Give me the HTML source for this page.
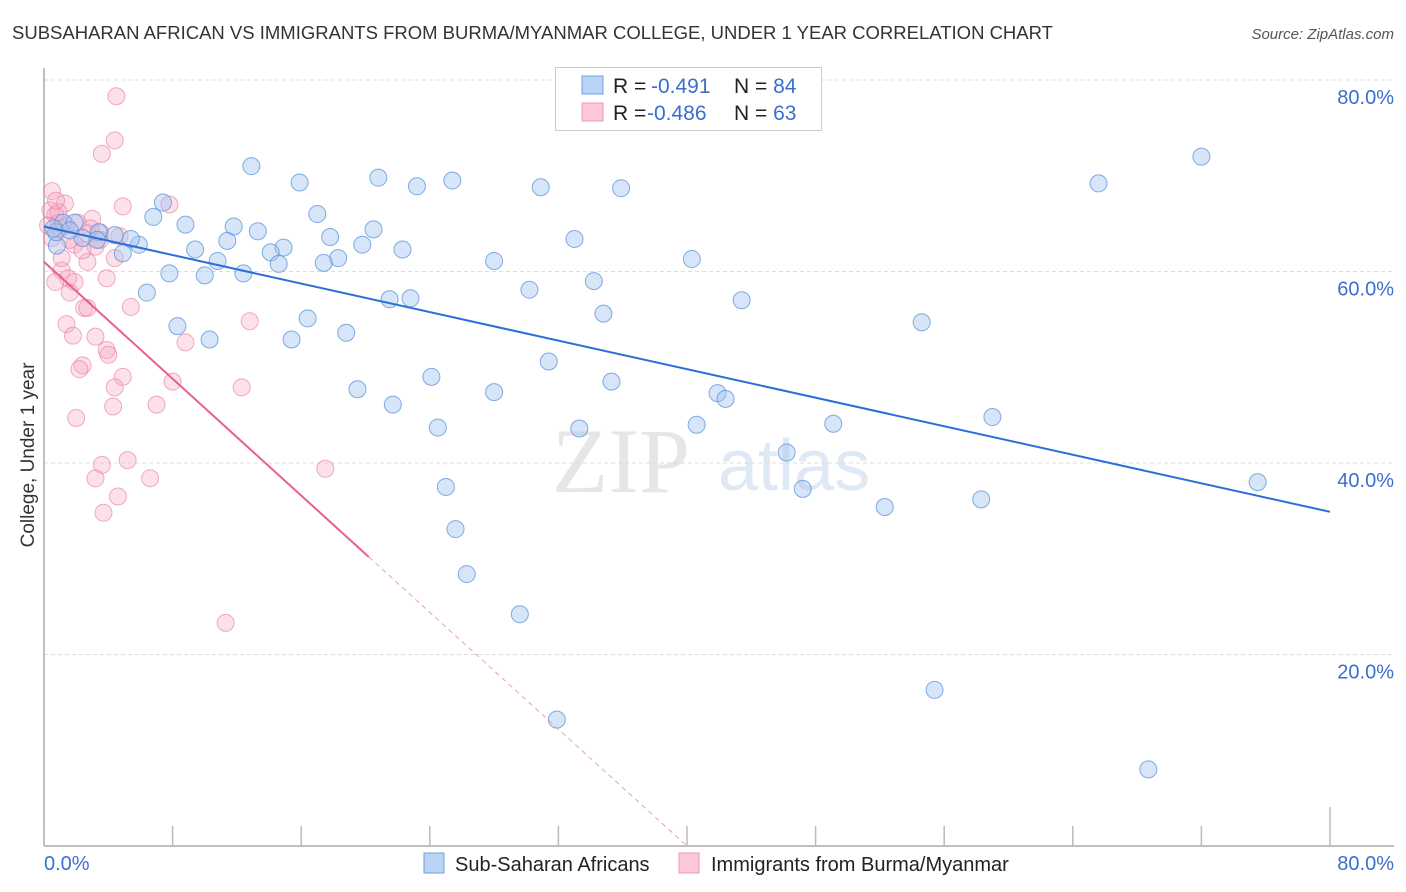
<!DOCTYPE html>
<html><head><meta charset="utf-8"><style>
body{margin:0;background:#fff;font-family:"Liberation Sans",sans-serif;}
#wrap{position:relative;width:1406px;height:892px;overflow:hidden;}
</style></head><body>
<div id="wrap">
<svg id="svg" width="1406" height="892" xmlns="http://www.w3.org/2000/svg">
<text x="12" y="39" font-size="18.5" fill="#333">SUBSAHARAN AFRICAN VS IMMIGRANTS FROM BURMA/MYANMAR COLLEGE, UNDER 1 YEAR CORRELATION CHART</text>
<text x="1394" y="39" font-size="15" fill="#555" font-style="italic" text-anchor="end">Source: ZipAtlas.com</text>
<text x="34" y="455" font-size="19" fill="#333" text-anchor="middle" transform="rotate(-90 34 455)">College, Under 1 year</text>
<text x="552" y="492" font-size="92" fill="#e6e6e6" font-family="Liberation Serif,serif">ZIP</text>
<text x="718" y="490" font-size="72" fill="#dfe8f5">atlas</text>
<g id="grid"></g><g id="pts"></g><g id="lines"></g>
<g>
<rect x="555.5" y="67.5" width="266" height="63" fill="#fff" stroke="#ccc"/>
<rect x="582" y="76" width="21" height="18" fill="#b9d3f5" stroke="#6a9fe0"/>
<rect x="582" y="103" width="21" height="18" fill="#fcc7d6" stroke="#ec9ab3"/>
<text x="613" y="93" font-size="21" fill="#222">R = <tspan x="651" fill="#3a6fd0">-0.491</tspan><tspan x="734">N = </tspan><tspan fill="#3a6fd0">84</tspan></text>
<text x="613" y="120" font-size="21" fill="#222">R = <tspan x="647" fill="#3a6fd0">-0.486</tspan><tspan x="734">N = </tspan><tspan fill="#3a6fd0">63</tspan></text>
</g>
<text x="44" y="870" font-size="20" fill="#3a6fd0">0.0%</text>
<text x="1394" y="870" font-size="20" fill="#3a6fd0" text-anchor="end">80.0%</text>
<rect x="424" y="853" width="20" height="20" fill="#b9d3f5" stroke="#6a9fe0"/>
<text x="455" y="871" font-size="20" fill="#222">Sub-Saharan Africans</text>
<rect x="679" y="853" width="20" height="20" fill="#fcc7d6" stroke="#ec9ab3"/>
<text x="711" y="871" font-size="20" fill="#222">Immigrants from Burma/Myanmar</text>
</svg>
</div>
<script>
const yTicks=[20,40,60,80];
const yTickLabels=["20.0%","40.0%","60.0%","80.0%"];
const xTicks=[0,8,16,24,32,40,48,56,64,72,80];
const blueX=[12.9,20.8,15.9,25.4,23.2,30.9,35.9,65.6,72.0,7.4,6.8,8.8,17.0,11.8,13.3,20.5,11.4,9.4,14.9,14.1,17.8,19.8,22.3,18.3,17.4,14.6,10.8,12.4,7.8,10.0,4.9,5.9,5.4,4.4,3.4,3.3,1.2,1.9,0.8,0.75,2.4,6.4,8.3,10.3,15.4,16.4,18.8,21.5,22.8,28.0,30.2,33.0,34.2,34.8,40.3,43.4,54.6,31.4,35.3,24.1,19.5,28.0,21.7,41.9,42.4,40.6,49.1,59.0,24.5,33.3,46.2,47.2,52.3,58.3,25.0,25.6,26.3,29.6,31.9,55.4,68.7,75.5,0.6,1.6,33.6];
const blueY=[71.0,69.8,69.3,69.5,68.9,68.8,68.7,69.2,72.0,67.2,65.7,64.9,66.0,64.7,64.2,64.4,63.2,62.3,62.5,62.0,63.6,62.8,62.3,61.4,60.9,60.8,61.1,59.8,59.8,59.6,61.9,62.8,63.4,63.8,64.1,63.3,65.1,65.1,62.7,64.1,63.5,57.8,54.3,52.9,52.9,55.1,53.6,57.1,57.2,61.1,58.1,63.4,59.0,55.6,61.3,57.0,54.7,50.6,48.5,49.0,47.7,47.4,46.1,47.3,46.7,44.0,44.1,44.8,43.7,43.6,41.1,37.3,35.4,36.2,37.5,33.1,28.4,24.2,13.2,16.3,8.0,38.0,64.5,64.3,80.2];
const pinkX=[4.5,4.4,3.6,0.5,7.8,4.9,1.3,3.0,0.7,0.4,0.9,2.1,3.5,2.7,1.9,3.2,4.4,2.7,1.1,1.5,0.7,1.9,1.6,3.9,5.4,2.5,2.7,12.8,1.4,3.2,1.8,8.8,3.9,4.0,2.4,2.2,4.9,8.0,12.3,4.4,4.3,7.0,2.0,3.6,5.2,3.2,6.6,4.6,3.7,17.5,11.3,0.25,0.5,1.0,1.4,2.9,0.9,1.6,2.4,1.1,3.5,4.7,0.75];
const pinkY=[78.3,73.7,72.3,68.4,67.0,66.8,67.1,65.5,65.9,66.4,65.1,65.1,64.1,64.0,62.8,62.6,61.4,61.0,60.1,59.3,58.9,58.9,57.8,59.3,56.3,56.2,56.2,54.8,54.5,53.2,53.3,52.6,51.8,51.3,50.2,49.8,49.0,48.5,47.9,47.9,45.9,46.1,44.7,39.8,40.3,38.4,38.4,36.5,34.8,39.4,23.3,64.8,63.5,64.5,64.8,64.5,66.2,63.3,62.2,61.4,63.3,63.7,67.4];
const blueTrend=[64.7,34.9];
const pinkTrend=[61.0,-1.525];
const pinkSolidEnd=20.2;

const X0=44,X1=1330,Y0=846,Y80=80;
const sx=v=>X0+(v/80)*(X1-X0);
const sy=v=>Y0-(v/80)*(Y0-Y80);
const NS="http://www.w3.org/2000/svg";
function mk(tag,attrs,parent){const e=document.createElementNS(NS,tag);for(const k in attrs)e.setAttribute(k,attrs[k]);parent.appendChild(e);return e;}
const grid=document.getElementById('grid');
yTicks.forEach((t,i)=>{
 const l=mk('line',{x1:X0,x2:1394,y1:sy(t),y2:sy(t),stroke:'#ddd','stroke-dasharray':'4,3'},grid);
 
 
 const tx=mk('text',{x:1394,y:sy(t)+24,'font-size':20,fill:'#3a6fd0','text-anchor':'end'},grid);
 tx.textContent=yTickLabels[i];
 
 
});
const ax=mk('line',{x1:X0,x2:X0,y1:68,y2:Y0,stroke:'#aaa','stroke-width':1.5},grid);


const bx=mk('line',{x1:X0,x2:1394,y1:Y0,y2:Y0,stroke:'#aaa','stroke-width':1.5},grid);


xTicks.forEach(t=>{
 const l=mk('line',{x1:sx(t),x2:sx(t),y1:t===80?807:826,y2:Y0,stroke:'#bbb','stroke-width':1.5},grid);
 
 
});
const pts=document.getElementById('pts');
pinkX.forEach((x,i)=>{
 const c=mk('circle',{cx:sx(x),cy:sy(pinkY[i]),r:8.5,fill:'rgba(246,170,195,0.35)',stroke:'rgba(232,120,155,0.6)','stroke-width':1},pts);
 
 
});
blueX.forEach((x,i)=>{
 const c=mk('circle',{cx:sx(x),cy:sy(blueY[i]),r:8.5,fill:'rgba(165,198,240,0.45)',stroke:'rgba(90,145,220,0.75)','stroke-width':1},pts);
 
 
});
const lines=document.getElementById('lines');
const bl=mk('line',{x1:sx(0),y1:sy(blueTrend[0]),x2:sx(80),y2:sy(blueTrend[1]),stroke:'#2b6fd6','stroke-width':2},lines);


const py=x=>pinkTrend[0]+pinkTrend[1]*x;
const zeroX=-pinkTrend[0]/pinkTrend[1];
const pl=mk('line',{x1:sx(0),y1:sy(py(0)),x2:sx(pinkSolidEnd),y2:sy(py(pinkSolidEnd)),stroke:'#e8608c','stroke-width':2},lines);


const pd=mk('line',{x1:sx(pinkSolidEnd),y1:sy(py(pinkSolidEnd)),x2:sx(zeroX),y2:sy(0),stroke:'#e8a0b8','stroke-width':1,'stroke-dasharray':'5,4'},lines);


</script>
</body></html>
